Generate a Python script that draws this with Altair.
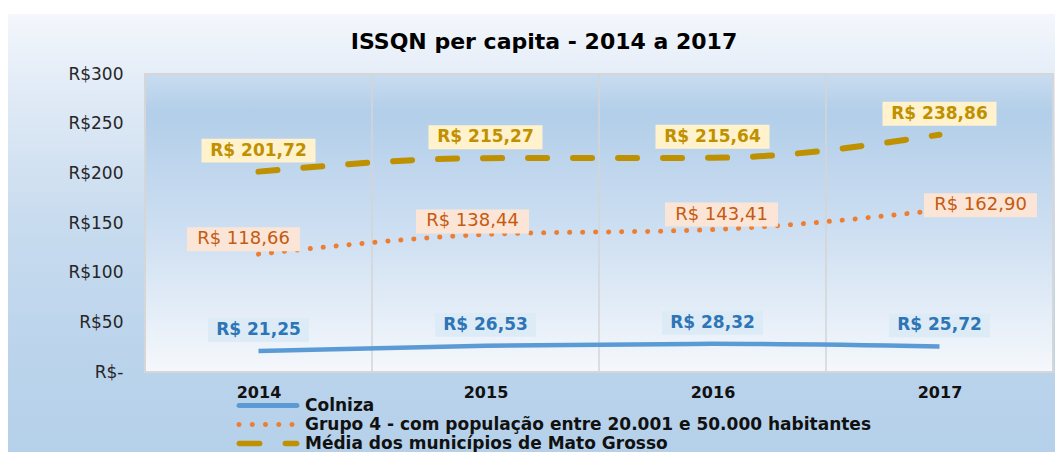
import altair as alt
import pandas as pd

# ---------------- data ----------------
years = ["2014", "2015", "2016", "2017"]
series_names = [
    "Colniza",
    "Grupo 4 - com população entre 20.001 e 50.000 habitantes",
    "Média dos municípios de Mato Grosso",
]
colniza = [21.25, 26.53, 28.32, 25.72]
grupo4 = [118.66, 138.44, 143.41, 162.90]
media_mt = [201.72, 215.27, 215.64, 238.86]
y_ticks = [0, 50, 100, 150, 200, 250, 300]
chart_title = "ISSQN per capita - 2014 a 2017"

# ---------------- styles ----------------
FONT = "DejaVu Sans"
line_colors = ["#5B9BD5", "#ED7D31", "#BF9000"]
text_colors = ["#2E75B6", "#C55A11", "#BF9000"]
box_colors = ["#DDEBF7", "#FBE5D6", "#FFF2CC"]
box_widths = [101, 113, 114]
box_height = 24
label_weights = ["bold", "normal", "bold"]
label_sizes = [17, 18, 17]
# per-label pixel offsets (dx, dy) of the data labels
label_offsets = [
    [(0, -21), (0, -21), (0, -21), (0, -21)],
    [(-15, -15), (-13, -13), (9, -15), (41, -5)],
    [(0, -21), (0, -21), (0, -21), (0, -21)],
]
line_styles = [
    dict(strokeWidth=4.5),
    dict(strokeWidth=5, strokeDash=[0.1, 12.9], strokeCap="round"),
    dict(strokeWidth=6, strokeDash=[19, 26], strokeCap="round"),
]

W, H = 908, 298

values_all = [colniza, grupo4, media_mt]


def fmt(v):
    return "R$ " + f"{v:.2f}".replace(".", ",")


frames = []
for s, vals in zip(series_names, values_all):
    frames.append(pd.DataFrame({
        "series": s, "year": years, "value": vals,
        "label": [fmt(v) for v in vals],
    }))
df = pd.concat(frames, ignore_index=True)

x_enc = alt.X(
    "year:N",
    scale=alt.Scale(type="point", domain=years, padding=0.5),
    axis=alt.Axis(title=None, labelFont=FONT, labelFontWeight="bold",
                  labelFontSize=16, labelColor="#111111", ticks=False,
                  domain=False, grid=False, labelPadding=12, labelAngle=0,
                  zindex=1),
)
y_enc = alt.Y(
    "value:Q",
    scale=alt.Scale(domain=[0, 300], nice=False, zero=True),
    axis=alt.Axis(title=None, values=y_ticks,
                  labelExpr="datum.value == 0 ? 'R$-' : 'R$' + datum.value",
                  labelFont=FONT, labelFontSize=17, labelColor="#262626",
                  ticks=False, domain=False, grid=False, labelPadding=22,
                  zindex=1),
)

# ---------------- background decorations ----------------
outer_grad = alt.LinearGradient(
    gradient="linear", x1=0, y1=0, x2=0, y2=1,
    stops=[
        alt.GradientStop(offset=0, color="#F4F7FC"),
        alt.GradientStop(offset=0.15, color="#E3ECF7"),
        alt.GradientStop(offset=0.45, color="#C9DCEF"),
        alt.GradientStop(offset=0.75, color="#BBD4EC"),
        alt.GradientStop(offset=1, color="#B5D0EA"),
    ],
)
plot_grad = alt.LinearGradient(
    gradient="linear", x1=0, y1=0, x2=0, y2=1,
    stops=[
        alt.GradientStop(offset=0, color="#C8DCF0"),
        alt.GradientStop(offset=0.13, color="#B2CEE9"),
        alt.GradientStop(offset=0.55, color="#CFE0F2"),
        alt.GradientStop(offset=1, color="#F5F8FC"),
    ],
)
bg_df = pd.DataFrame({"k": [0]})
outer_bg = alt.Chart(bg_df).mark_rect(fill=outer_grad).encode(
    x=alt.value(-137), x2=alt.value(W + 10), y=alt.value(-60), y2=alt.value(H + 90)
)
plot_bg = alt.Chart(bg_df).mark_rect(fill=plot_grad, stroke="#D6D6D6", strokeWidth=2).encode(
    x=alt.value(0), x2=alt.value(W), y=alt.value(0), y2=alt.value(H)
)

grid = alt.Chart(pd.DataFrame({"year": years[1:]})).mark_rule(
    color="#D4D4D4", strokeWidth=1.5, xOffset=-W / 8
).encode(x=x_enc, y=alt.value(0), y2=alt.value(H))

layers = [outer_bg, plot_bg, grid]

# ---------------- lines ----------------
for i, s in enumerate(series_names):
    sub = df[df["series"] == s]
    layers.append(
        alt.Chart(sub).mark_line(interpolate="monotone", color=line_colors[i],
                                 **line_styles[i]).encode(x=x_enc, y=y_enc)
    )

# ---------------- data labels ----------------
for i, s in enumerate(series_names):
    sub = df[df["series"] == s].reset_index(drop=True)
    w = box_widths[i]
    h = box_height / w
    box_path = f"M-1,-{h:.4f}L1,-{h:.4f}L1,{h:.4f}L-1,{h:.4f}Z"
    for j in range(len(sub)):
        dx, dy = label_offsets[i][j]
        row = sub.iloc[[j]]
        layers.append(
            alt.Chart(row).mark_point(shape=box_path, size=w * w, filled=True,
                                      fill=box_colors[i], opacity=1, strokeWidth=0,
                                      xOffset=dx, yOffset=dy).encode(x=x_enc, y=y_enc)
        )
        layers.append(
            alt.Chart(row).mark_text(dx=dx, dy=dy, font=FONT, fontSize=label_sizes[i],
                                     fontWeight=label_weights[i], color=text_colors[i],
                                     align="center", baseline="middle").encode(
                x=x_enc, y=y_enc, text="label:N")
        )

# ---------------- legend ----------------
def circ(cx, r=0.5):
    return f"M{cx - r},0A{r},{r} 0 1,0 {cx + r},0A{r},{r} 0 1,0 {cx - r},0Z"

legend_paths = [
    "M-0.5,-0.5L11.1,-0.5A0.5,0.5 0 0 1 11.1,0.5L-0.5,0.5A0.5,0.5 0 0 1 -0.5,-0.5Z",
    "".join(circ(c) for c in [-0.5, 2.16, 4.8, 7.46, 10.1]),
    "M-0.45,-0.55L3.65,-0.55A0.55,0.55 0 0 1 3.65,0.55L-0.45,0.55A0.55,0.55 0 0 1 -0.45,-0.55Z"
    "M8.75,-0.55L11.05,-0.55A0.55,0.55 0 0 1 11.05,0.55L8.75,0.55A0.55,0.55 0 0 1 8.75,-0.55Z",
]
leg = alt.Legend(title=None, orient="none", legendX=88, legendY=323,
                 direction="vertical", symbolSize=100, symbolStrokeWidth=0,
                 labelFont=FONT, labelFontWeight="bold", labelFontSize=17,
                 labelColor="#111111", labelOffset=55, labelLimit=1000,
                 rowPadding=1, zindex=1, symbolOpacity=1)
legend_layer = alt.Chart(df).transform_filter("datum.value < 0").mark_point(
    filled=True, opacity=1
).encode(
    color=alt.Color("series:N", scale=alt.Scale(domain=series_names, range=line_colors), legend=leg),
    shape=alt.Shape("series:N", scale=alt.Scale(domain=series_names, range=legend_paths), legend=leg),
)
layers.append(legend_layer)

chart = alt.layer(*layers).properties(
    width=W, height=H,
    title=alt.TitleParams(chart_title, font=FONT, fontSize=22, fontWeight="bold",
                          color="#000000", anchor="middle", frame="group", dx=-55,
                          offset=-40, zindex=1),
    autosize=alt.AutoSizeParams(type="none"),
    padding={"left": 137, "top": 66, "right": 2, "bottom": 80},
).configure_view(stroke=None).configure(background="white")

chart.save("out.html", embed_options={"renderer": "svg", "actions": False})
